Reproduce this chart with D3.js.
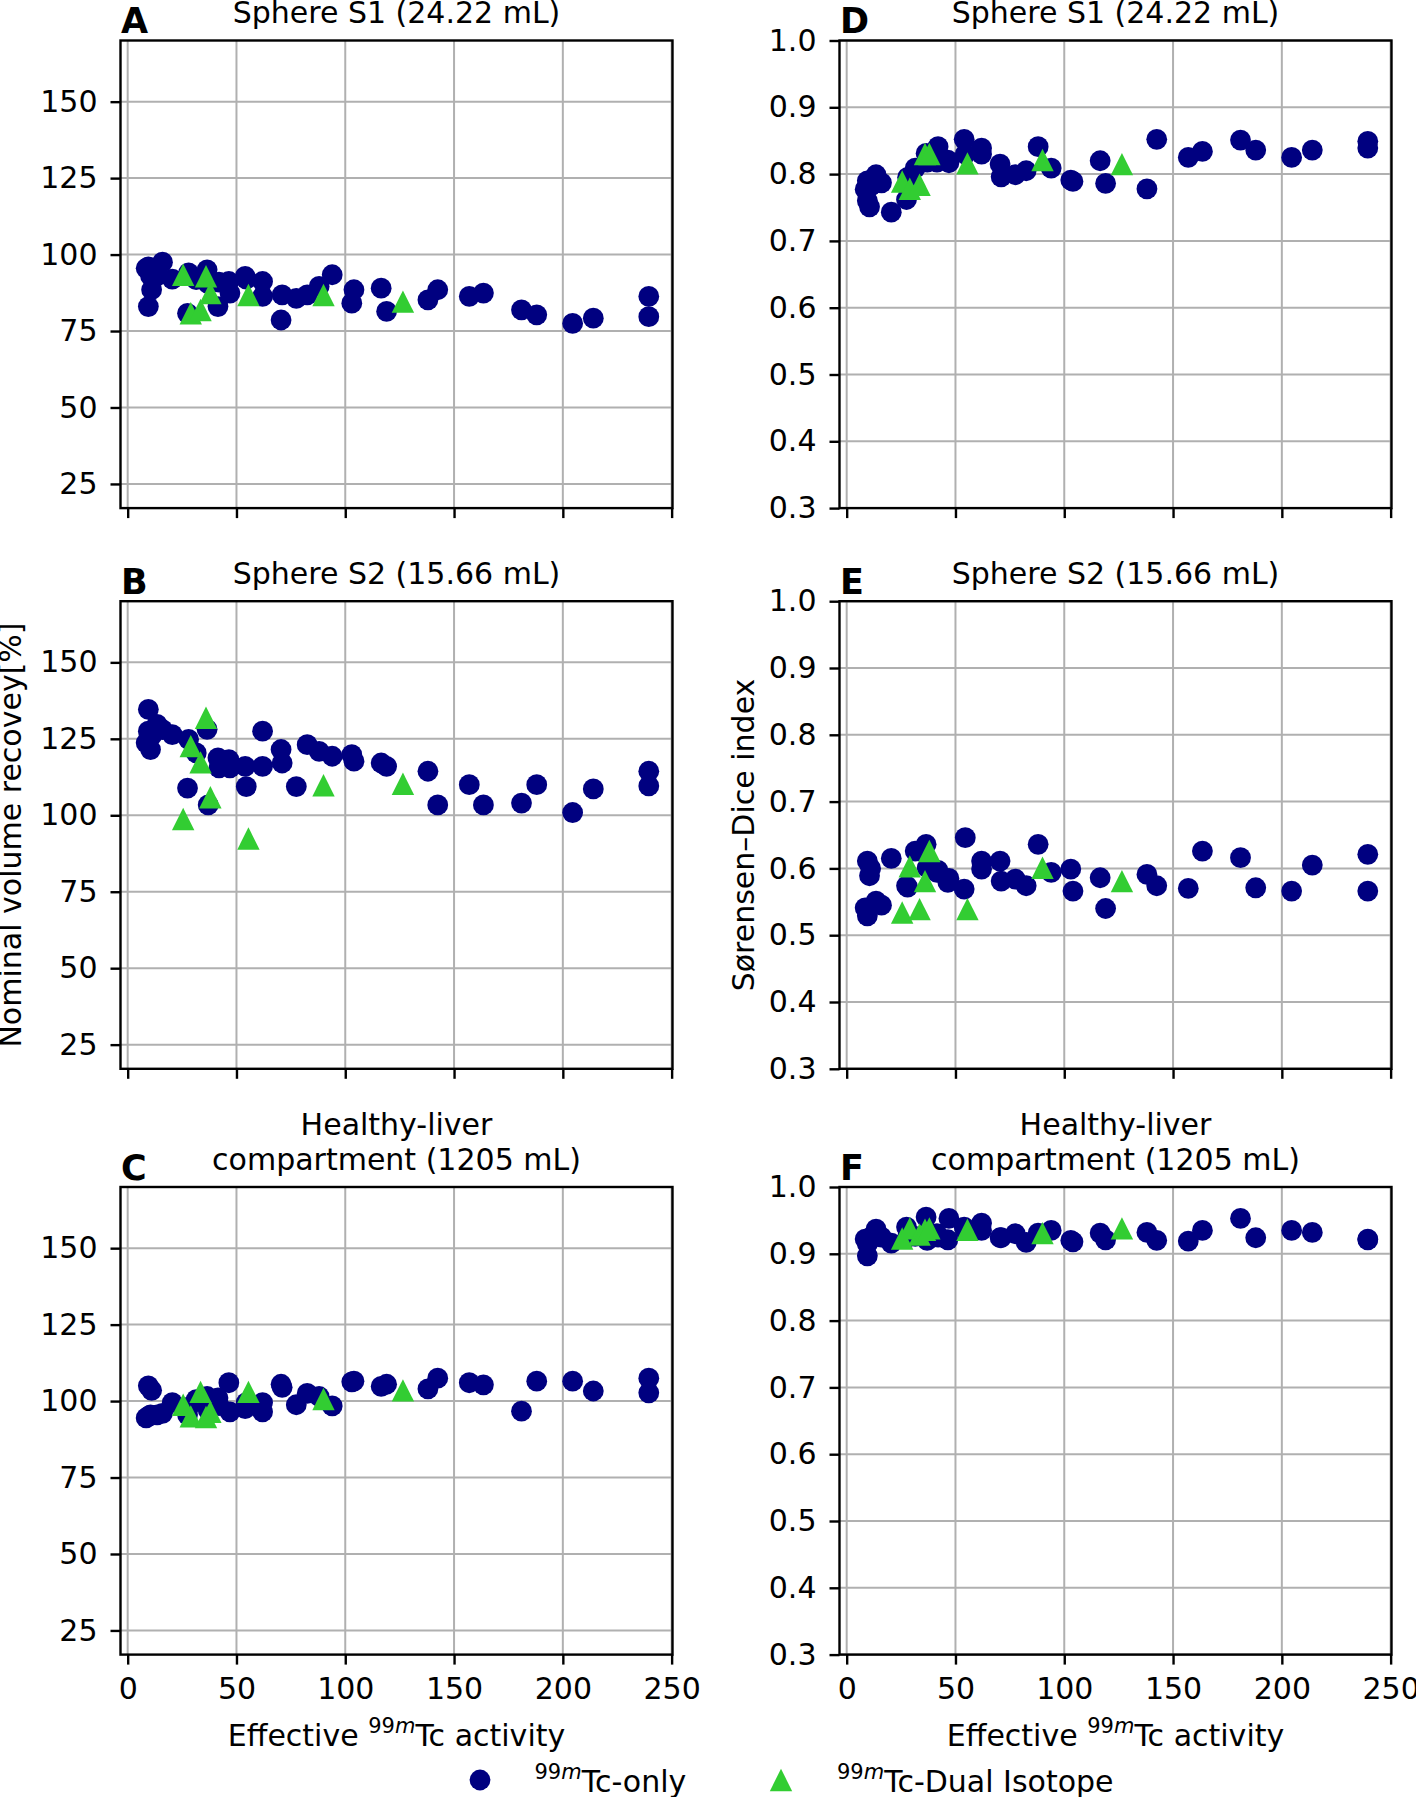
<!DOCTYPE html>
<html><head><meta charset="utf-8">
<script src="https://cdn.jsdelivr.net/npm/d3@7"></script>
<style>
body{margin:0;background:#fff}
svg{display:block}
text{font-family:"DejaVu Sans",sans-serif;fill:#000}
</style>
</head><body>
<svg id="chart" width="1416" height="1797"></svg>
<script>
// ---- data ----
const activityOnly = [8.5, 9.5, 9.5, 10.5, 11, 13.5, 16, 20.5, 27.5, 28, 31.5, 36.5, 37, 41.5, 42, 46.5, 47, 54, 54.5, 62, 62, 70.5, 71, 77.5, 82.5, 88, 94, 103, 104, 116.5, 119, 138, 142.5, 157, 163.5, 181, 188, 204.5, 214, 239.5, 239.5];
const activityDual = [25.5, 29, 33.5, 36, 38, 55.5, 90, 126.5];

const recoveryS1Only = [95.5, 96, 83, 93, 88.5, 93, 97.5, 92, 80.8, 94, 91.8, 95, 90.5, 83, 91, 91.2, 87.4, 92.9, 92, 91.2, 86.3, 78.6, 86.8, 85.7, 86.8, 89.6, 93.4, 84.1, 88.5, 89, 81.4, 85.2, 88.5, 86.3, 87.4, 81.9, 80.3, 77.5, 79.2, 86.3, 79.7];
const recoveryS2Only = [123.7, 134.6, 127.5, 121.5, 126, 129.7, 128, 126.4, 108.9, 124.8, 120.4, 128.1, 103.4, 118.8, 115.5, 118.2, 115.5, 116, 109.4, 127.5, 116, 121.5, 117.1, 109.4, 123.1, 120.9, 119.3, 119.8, 117.7, 117.1, 116, 114.4, 103.4, 110, 103.4, 104, 110, 100.9, 108.6, 114.4, 109.6];
const recoveryLiverOnly = [94.5, 105, 95, 95.5, 103.5, 95.5, 96, 99.5, 95.5, 98, 100.5, 101.5, 97, 101, 98.5, 106, 96.5, 97.5, 99.5, 99.5, 96.5, 105.5, 104.5, 98.8, 102.5, 101.5, 98.4, 106.3, 106.5, 104.8, 105.5, 104, 107.5, 106, 105.3, 96.7, 106.5, 106.5, 103.3, 107.5, 102.7];
const diceS1Only = [0.777, 0.79, 0.76, 0.751, 0.782, 0.799, 0.787, 0.743, 0.762, 0.795, 0.809, 0.831, 0.818, 0.818, 0.841, 0.821, 0.817, 0.852, 0.83, 0.839, 0.83, 0.815, 0.796, 0.799, 0.805, 0.841, 0.809, 0.791, 0.789, 0.82, 0.786, 0.778, 0.852, 0.825, 0.834, 0.851, 0.836, 0.825, 0.836, 0.849, 0.839];
const diceS2Only = [0.541, 0.611, 0.529, 0.589, 0.60, 0.551, 0.545, 0.615, 0.574, 0.572, 0.626, 0.636, 0.601, 0.594, 0.597, 0.579, 0.585, 0.569, 0.646, 0.611, 0.599, 0.611, 0.581, 0.584, 0.574, 0.636, 0.594, 0.599, 0.566, 0.586, 0.54, 0.591, 0.574, 0.570, 0.626, 0.616, 0.571, 0.566, 0.605, 0.621, 0.566];
const diceLiverOnly = [0.922, 0.897, 0.915, 0.92, 0.925, 0.937, 0.925, 0.916, 0.94, 0.925, 0.926, 0.955, 0.92, 0.93, 0.925, 0.921, 0.953, 0.94, 0.935, 0.946, 0.935, 0.924, 0.924, 0.93, 0.917, 0.931, 0.935, 0.92, 0.918, 0.931, 0.921, 0.932, 0.92, 0.919, 0.935, 0.953, 0.924, 0.935, 0.932, 0.921, 0.922];

const recoveryS1Dual = [93.4, 80.8, 81.9, 92.9, 87.4, 86.8, 86.8, 84.6];
const recoveryS2Dual = [98.8, 122.6, 117.3, 131.9, 105.9, 92.4, 109.8, 110.3];
const recoveryLiverDual = [98.8, 95, 103, 94.8, 96.5, 103, 100.7, 103.5];
const diceS1Dual = [0.789, 0.778, 0.784, 0.83, 0.83, 0.816, 0.821, 0.815];
const diceS2Dual = [0.534, 0.603, 0.539, 0.581, 0.626, 0.539, 0.601, 0.581];
const diceLiverDual = [0.923, 0.938, 0.929, 0.936, 0.938, 0.936, 0.931, 0.938];

const xTicks = [0, 50, 100, 150, 200, 250];
const recoveryTicks = [25, 50, 75, 100, 125, 150];
const diceTicks = [0.3, 0.4, 0.5, 0.6, 0.7, 0.8, 0.9, 1.0];

const panelLetters = ["A", "B", "C", "D", "E", "F"];
const panelTitles = [["Sphere S1 (24.22 mL)"], ["Sphere S2 (15.66 mL)"], ["Healthy-liver", "compartment (1205 mL)"],
                     ["Sphere S1 (24.22 mL)"], ["Sphere S2 (15.66 mL)"], ["Healthy-liver", "compartment (1205 mL)"]];

// ---- layout ----
const NAVY = "#000080", GREEN = "#32cd32", GRID = "#b0b0b0";
const colLeft = [120.5, 839.5], axW = 552;
const rowTop = [40.5, 601.2, 1187], axH = 467.6;
const svg = d3.select("#chart");

const x = d3.scaleLinear().domain([-3.3, 250.4]).range([0, axW]);
const yRec = d3.scaleLinear().domain([17.1, 170]).range([axH, 0]);
const yDice = d3.scaleLinear().domain([0.3, 1.0]).range([axH, 0]);

const panels = [
  {col:0,row:0,y:yRec,ticks:recoveryTicks,fmt:d3.format("d"),only:recoveryS1Only,dual:recoveryS1Dual},
  {col:0,row:1,y:yRec,ticks:recoveryTicks,fmt:d3.format("d"),only:recoveryS2Only,dual:recoveryS2Dual},
  {col:0,row:2,y:yRec,ticks:recoveryTicks,fmt:d3.format("d"),only:recoveryLiverOnly,dual:recoveryLiverDual},
  {col:1,row:0,y:yDice,ticks:diceTicks,fmt:d3.format(".1f"),only:diceS1Only,dual:diceS1Dual},
  {col:1,row:1,y:yDice,ticks:diceTicks,fmt:d3.format(".1f"),only:diceS2Only,dual:diceS2Dual},
  {col:1,row:2,y:yDice,ticks:diceTicks,fmt:d3.format(".1f"),only:diceLiverOnly,dual:diceLiverDual}
];

const triPath = s => `M0,${-s}L${s},${s}L${-s},${s}Z`;
const TRI = 11.2, RAD = 10.4;

panels.forEach((p, i) => {
  const left = colLeft[p.col], top = rowTop[p.row];
  const g = svg.append("g").attr("transform", `translate(${left},${top})`);
  const y = p.y;

  // grid
  g.append("g").selectAll("line").data(xTicks).join("line")
    .attr("x1", d => x(d)).attr("x2", d => x(d)).attr("y1", 0).attr("y2", axH)
    .attr("stroke", GRID).attr("stroke-width", 2);
  g.append("g").selectAll("line").data(p.ticks).join("line")
    .attr("x1", 0).attr("x2", axW).attr("y1", d => y(d)).attr("y2", d => y(d))
    .attr("stroke", GRID).attr("stroke-width", 2);

  // axes
  const xa = d3.axisBottom(x).tickValues(xTicks).tickSize(10).tickPadding(13)
    .tickFormat(p.row === 2 ? d3.format("d") : () => "");
  const gx = g.append("g").attr("transform", `translate(0,${axH})`).call(xa);
  const ya = d3.axisLeft(y).tickValues(p.ticks).tickSize(10).tickPadding(13).tickFormat(p.fmt);
  const gy = g.append("g").call(ya);
  [gx, gy].forEach(a => {
    a.select(".domain").remove();
    a.selectAll(".tick line").attr("stroke", "#000").attr("stroke-width", 2.4);
    a.selectAll(".tick text").attr("font-size", 30).attr("font-family", "DejaVu Sans").attr("fill", "#000");
  });

  // points
  g.append("g").selectAll("circle").data(activityOnly.map((a, k) => [a, p.only[k]])).join("circle")
    .attr("cx", d => x(d[0])).attr("cy", d => y(d[1])).attr("r", RAD).attr("fill", NAVY);
  g.append("g").selectAll("path").data(activityDual.map((a, k) => [a, p.dual[k]])).join("path")
    .attr("transform", d => `translate(${x(d[0])},${y(d[1])})`).attr("d", triPath(TRI)).attr("fill", GREEN);

  // spines
  g.append("rect").attr("x", 0).attr("y", 0).attr("width", axW).attr("height", axH)
    .attr("fill", "none").attr("stroke", "#000").attr("stroke-width", 2.4);

  // title
  const lines = panelTitles[i];
  lines.forEach((t, k) => {
    g.append("text").attr("x", axW / 2).attr("y", -17.5 - (lines.length - 1 - k) * 34.5)
      .attr("text-anchor", "middle").attr("font-size", 30).text(t);
  });
  // panel letter
  g.append("text").attr("x", 0.5).attr("y", -7.5).attr("font-size", 35).attr("font-weight", "bold").text(panelLetters[i]);

  // x label
  if (p.row === 2) {
    const t = g.append("text").attr("x", axW / 2).attr("y", 1746 - top).attr("text-anchor", "middle").attr("font-size", 30);
    t.append("tspan").text("Effective ");
    t.append("tspan").attr("dy", -13).attr("font-size", 21).text("99");
    t.append("tspan").attr("font-size", 21).attr("font-style", "italic").text("m");
    t.append("tspan").attr("dy", 13).attr("font-size", 30).text("Tc activity");
  }
});

// y labels
svg.append("text").attr("transform", `translate(21,${rowTop[1] + axH / 2}) rotate(-90)`)
  .attr("text-anchor", "middle").attr("font-size", 30).text("Nominal volume recovey[%]");
svg.append("text").attr("transform", `translate(754,${rowTop[1] + axH / 2}) rotate(-90)`)
  .attr("text-anchor", "middle").attr("font-size", 30).text("Sørensen–Dice index");

// legend
const legendItems = [
  {label: "Tc-only", color: NAVY, shape: "circle", mx: 480, tx: 534.5},
  {label: "Tc-Dual Isotope", color: GREEN, shape: "tri", mx: 781, tx: 837}
];
const lg = svg.append("g");
legendItems.forEach(it => {
  if (it.shape === "circle") {
    lg.append("circle").attr("cx", it.mx).attr("cy", 1780).attr("r", RAD).attr("fill", it.color);
  } else {
    lg.append("path").attr("transform", `translate(${it.mx},1780)`).attr("d", triPath(TRI)).attr("fill", it.color);
  }
  const t = lg.append("text").attr("x", it.tx).attr("y", 1792).attr("font-size", 30);
  t.append("tspan").attr("dy", -13).attr("font-size", 21).text("99");
  t.append("tspan").attr("font-size", 21).attr("font-style", "italic").text("m");
  t.append("tspan").attr("dy", 13).attr("font-size", 30).text(it.label);
});
</script>
</body></html>
